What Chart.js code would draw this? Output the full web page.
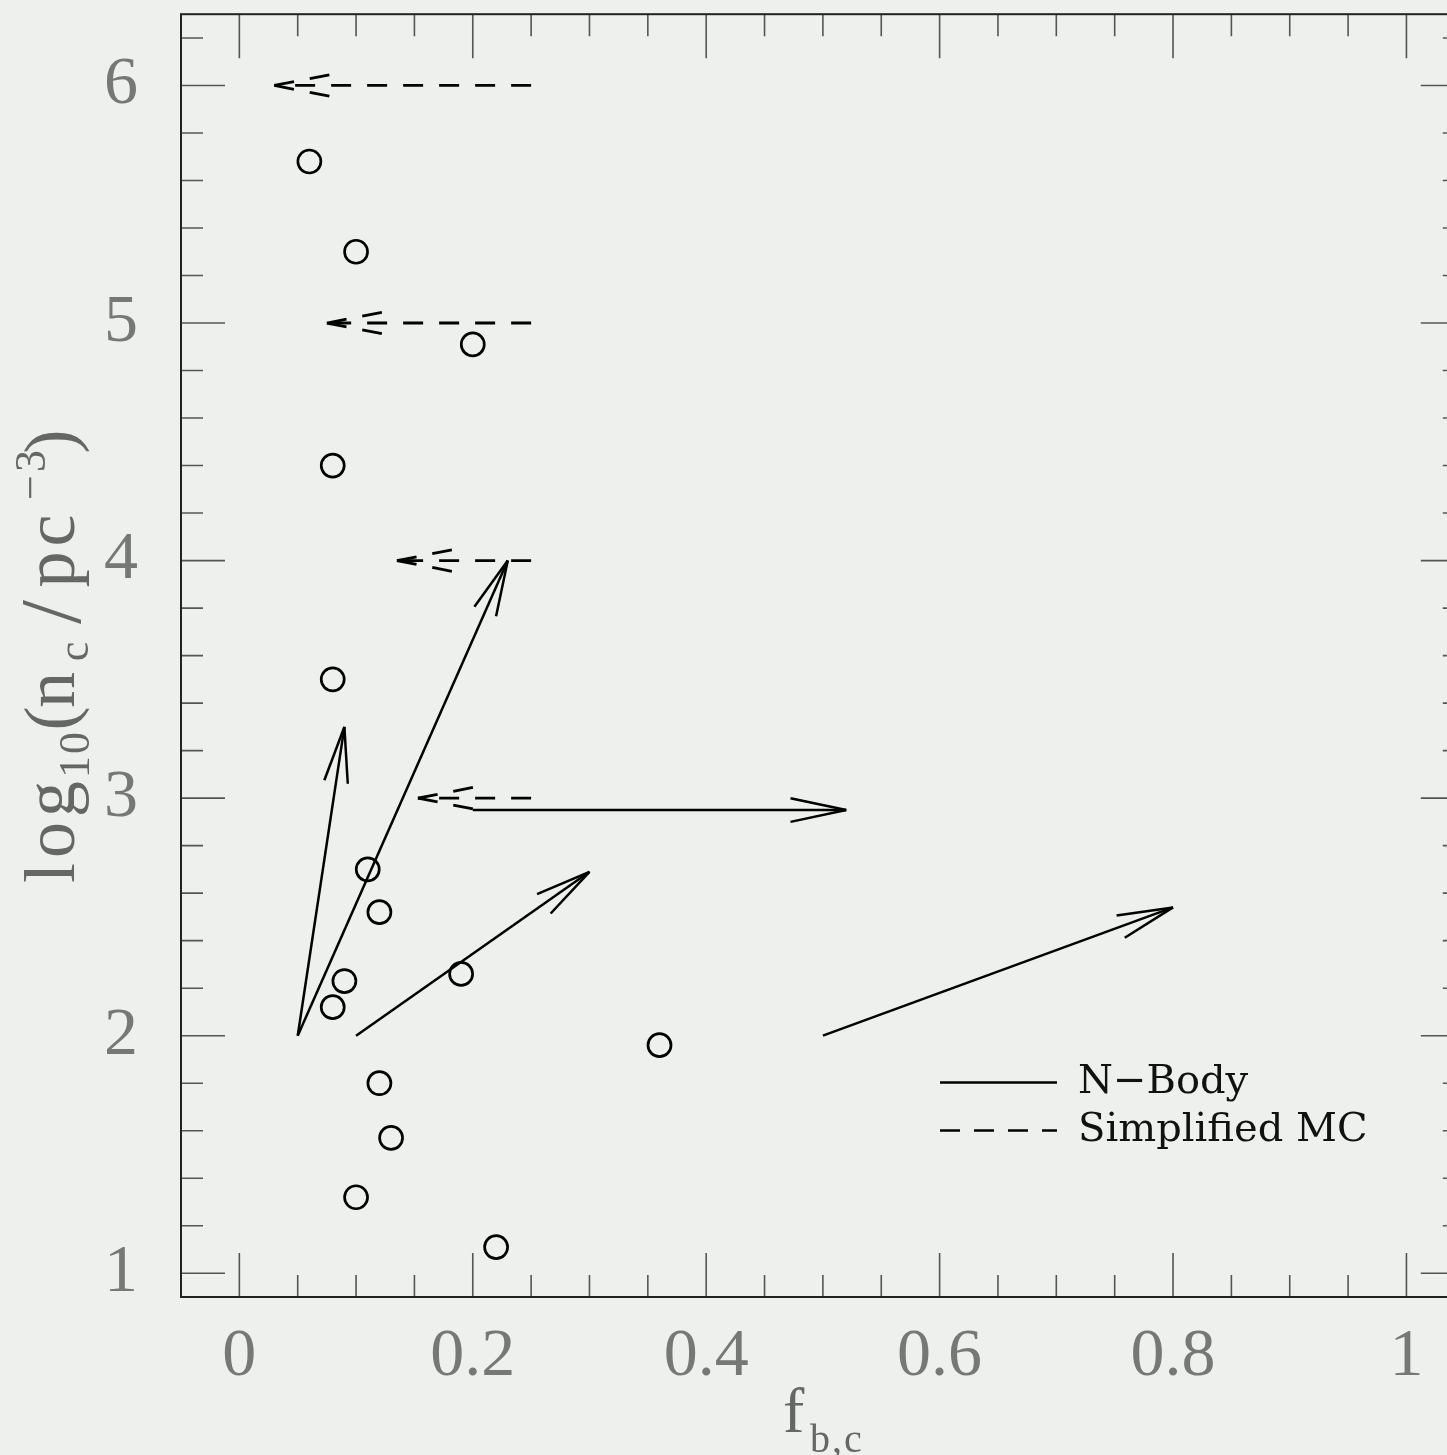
<!DOCTYPE html>
<html><head><meta charset="utf-8">
<script src="https://cdn.jsdelivr.net/npm/chart.js@4.4.1/dist/chart.umd.min.js"></script>
<style>
html,body{margin:0;padding:0;background:#eef0ed;overflow:hidden;}
#wrap{width:1479px;height:1455px;}
canvas{display:block;}
</style></head><body>
<div id="wrap"><canvas id="c" width="1479" height="1455"></canvas></div>
<script>
// ---- data ----
const circleX = [0.06, 0.10, 0.20, 0.08, 0.08, 0.11, 0.12, 0.09, 0.08, 0.19, 0.36, 0.12, 0.13, 0.10, 0.22];
const circleY = [5.68, 5.30, 4.91, 4.40, 3.50, 2.70, 2.52, 2.23, 2.12, 2.26, 1.96, 1.80, 1.57, 1.32, 1.11];

const nbodyFromX = [0.05, 0.05, 0.10, 0.20, 0.50];
const nbodyFromY = [2.00, 2.00, 2.00, 2.95, 2.00];
const nbodyToX   = [0.09, 0.23, 0.30, 0.52, 0.80];
const nbodyToY   = [3.30, 4.00, 2.69, 2.95, 2.54];

const mcFromX = [0.25, 0.25, 0.25, 0.25];
const mcFromY = [6, 5, 4, 3];
const mcToX   = [0.03, 0.075, 0.135, 0.153];
const mcToY   = [6, 5, 4, 3];

const xTickValues = [0, 0.05, 0.1, 0.15, 0.2, 0.25, 0.3, 0.35, 0.4, 0.45, 0.5, 0.55, 0.6, 0.65, 0.7, 0.75, 0.8, 0.85, 0.9, 0.95, 1.0];
const xMajorValues = [0, 0.2, 0.4, 0.6, 0.8, 1];
const xTickLabels  = ['0', '0.2', '0.4', '0.6', '0.8', '1'];
const yTickValues = [1.0, 1.2, 1.4, 1.6, 1.8, 2.0, 2.2, 2.4, 2.6, 2.8, 3.0, 3.2, 3.4, 3.6, 3.8, 4.0, 4.2, 4.4, 4.6, 4.8, 5.0, 5.2, 5.4, 5.6, 5.8, 6.0, 6.2];
const yMajorValues = [1, 2, 3, 4, 5, 6];
const yTickLabels  = ['1', '2', '3', '4', '5', '6'];
const legendLabels = ['N\u2212Body', 'Simplified MC'];

// ---- build datasets ----
const datasets = [];
datasets.push({
  label: 'clusters',
  data: circleX.map((x, i) => ({x: x, y: circleY[i]})),
  showLine: false,
  pointStyle: 'circle',
  pointRadius: 11.5,
  pointBorderWidth: 2.7,
  pointBorderColor: '#000',
  pointBackgroundColor: 'rgba(0,0,0,0)'
});
nbodyFromX.forEach((x, i) => {
  datasets.push({
    label: legendLabels[0],
    data: [{x: x, y: nbodyFromY[i]}, {x: nbodyToX[i], y: nbodyToY[i]}],
    showLine: true, pointRadius: 0, borderColor: '#000', borderWidth: 2.5,
    arrow: {len: 57, angle: 12}
  });
});
mcFromX.forEach((x, i) => {
  datasets.push({
    label: legendLabels[1],
    data: [{x: x, y: mcFromY[i]}, {x: mcToX[i], y: mcToY[i]}],
    showLine: true, pointRadius: 0, borderColor: '#000', borderWidth: 2.8,
    borderDash: [20, 16],
    arrow: {len: 56, angle: 11}
  });
});

function isMajor(v, arr) { return arr.findIndex(m => Math.abs(m - v) < 1e-6); }

const TICK_FONT = {family: '"Liberation Serif", serif', size: 68};

const arrowPlugin = {
  id: 'arrows',
  afterDatasetsDraw(chart) {
    const ctx = chart.ctx;
    chart.data.datasets.forEach((ds, i) => {
      if (!ds.arrow) return;
      const meta = chart.getDatasetMeta(i);
      const p0 = meta.data[0], p1 = meta.data[1];
      const ang = Math.atan2(p1.y - p0.y, p1.x - p0.x);
      const L = ds.arrow.len, a = ds.arrow.angle * Math.PI / 180;
      ctx.save();
      ctx.strokeStyle = ds.borderColor;
      ctx.lineWidth = ds.borderWidth;
      ctx.setLineDash(ds.borderDash || []);
      [1, -1].forEach(s => {
        ctx.beginPath();
        ctx.moveTo(p1.x, p1.y);
        ctx.lineTo(p1.x - L * Math.cos(ang + s * a), p1.y - L * Math.sin(ang + s * a));
        ctx.stroke();
      });
      ctx.restore();
    });
  }
};

const framePlugin = {
  id: 'frame',
  afterDraw(chart) {
    const ctx = chart.ctx, a = chart.chartArea;
    const xs = chart.scales.x, ys = chart.scales.y;
    ctx.save();
    ctx.strokeStyle = '#555';
    ctx.lineWidth = 1.6;
    xs.ticks.forEach(t => {
      const px = xs.getPixelForValue(t.value);
      const len = isMajor(t.value, xMajorValues) >= 0 ? 44 : 22;
      ctx.beginPath();
      ctx.moveTo(px, a.bottom); ctx.lineTo(px, a.bottom - len);
      ctx.moveTo(px, a.top); ctx.lineTo(px, a.top + len);
      ctx.stroke();
    });
    ys.ticks.forEach(t => {
      const py = ys.getPixelForValue(t.value);
      const len = isMajor(t.value, yMajorValues) >= 0 ? 44 : 22;
      ctx.beginPath();
      ctx.moveTo(a.left, py); ctx.lineTo(a.left + len, py);
      ctx.moveTo(a.right, py); ctx.lineTo(a.right - len, py);
      ctx.stroke();
    });
    ctx.strokeStyle = '#222';
    ctx.lineWidth = 2;
    ctx.strokeRect(a.left, a.top, a.right - a.left, a.bottom - a.top);

    // axis titles
    ctx.fillStyle = '#666';
    ctx.textBaseline = 'alphabetic';
    ctx.textAlign = 'left';
    ctx.font = '64px "Liberation Serif", serif';
    ctx.fillText('f', 783, 1432);
    ctx.font = '40px "Liberation Serif", serif';
    ctx.letterSpacing = '2px';
    ctx.fillText('b,c', 810, 1452);
    ctx.letterSpacing = '0px';

    ctx.save();
    ctx.translate(74, 882);
    ctx.rotate(-Math.PI / 2);
    ctx.textAlign = 'center';
    const piece = (txt, s, d, size, ls) => {
      ctx.font = size + 'px "Liberation Serif", serif';
      ctx.letterSpacing = ls || '0px';
      ctx.fillText(txt, s, d);
    };
    piece('log', 52.5, 0, 72, '5px');
    piece('10', 128, 15, 44, '2px');
    piece('(', 163.5, 0, 72);
    piece('n', 192, 0, 72);
    piece('c', 230.5, 14, 44);
    piece('/', 270, 6, 86);
    piece('pc', 333.5, 0, 72, '5px');
    piece('\u22123', 408.5, -29, 44, '3px');
    piece(')', 440.5, 0, 72);
    ctx.restore();

    // legend
    ctx.strokeStyle = '#000';
    ctx.lineWidth = 2.5;
    ctx.setLineDash([]);
    ctx.beginPath(); ctx.moveTo(940, 1082.5); ctx.lineTo(1057, 1082.5); ctx.stroke();
    ctx.setLineDash([20, 14]);
    ctx.beginPath(); ctx.moveTo(940, 1130.5); ctx.lineTo(1057, 1130.5); ctx.stroke();
    ctx.setLineDash([]);
    ctx.fillStyle = '#111';
    ctx.textAlign = 'left';
    ctx.font = '40px "DejaVu Serif", serif';
    ctx.letterSpacing = '0px';
    ctx.fillText(legendLabels[0], 1078, 1093);
    ctx.fillText(legendLabels[1], 1078, 1141);
    ctx.restore();
  }
};

new Chart(document.getElementById('c'), {
  type: 'scatter',
  data: {datasets: datasets},
  options: {
    responsive: false,
    animation: false,
    events: [],
    devicePixelRatio: 1,
    layout: {padding: {top: 14, left: 0, right: 0, bottom: 0}},
    plugins: {legend: {display: false}, tooltip: {enabled: false}, title: {display: false}},
    scales: {
      x: {
        type: 'linear', min: -0.05, max: 1.05,
        grid: {display: false, drawTicks: false},
        border: {display: false},
        afterBuildTicks: s => { s.ticks = xTickValues.map(v => ({value: v})); },
        afterFit: s => { s.height = 158; s.paddingLeft = 0; s.paddingRight = 0; },
        ticks: {
          autoSkip: false, maxRotation: 0, padding: 19, color: '#777', font: TICK_FONT,
          callback: v => { const k = isMajor(v, xMajorValues); return k >= 0 ? xTickLabels[k] : ''; }
        }
      },
      y: {
        type: 'linear', min: 0.9, max: 6.3,
        grid: {display: false, drawTicks: false},
        border: {display: false},
        afterBuildTicks: s => { s.ticks = yTickValues.map(v => ({value: v})); },
        afterFit: s => { s.width = 181; s.paddingTop = 0; s.paddingBottom = 0; },
        ticks: {
          autoSkip: false, padding: 43, color: '#777', font: TICK_FONT,
          callback: v => { const k = isMajor(v, yMajorValues); return k >= 0 ? yTickLabels[k] : ''; }
        }
      }
    }
  },
  plugins: [arrowPlugin, framePlugin]
});
</script>
</body></html>
